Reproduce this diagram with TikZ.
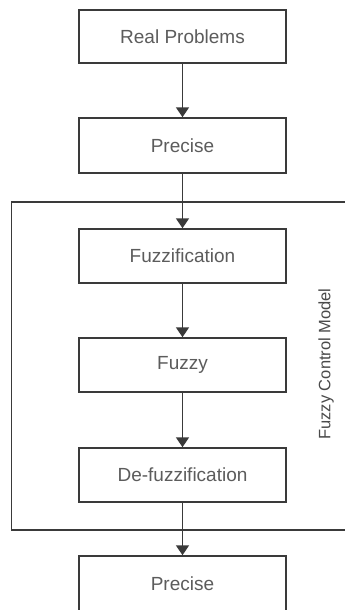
\documentclass[tikz,border=0pt]{standalone}
\usepackage{fontspec}
\setmainfont{Liberation Sans}
\usetikzlibrary{arrows.meta}
\definecolor{linegray}{HTML}{3A3A3A}
\definecolor{textgray}{HTML}{5C5C5C}
\definecolor{labelgray}{HTML}{4A4A4A}
\begin{document}
\begin{tikzpicture}[x=1pt,y=-1pt,
  stepbox/.style={draw=linegray, line width=1.5pt, fill=white,
    minimum width=207pt, minimum height=54pt, inner sep=0pt,
    text=textgray, font=\fontsize{19}{22}\selectfont},
  flow/.style={draw=linegray, line width=1.5pt,
    -{Triangle[width=13pt,length=10pt]}},
  frame/.style={draw=linegray, line width=1.5pt}]
\useasboundingbox (0,0) rectangle (345,610);
\clip (0,0) rectangle (345,610);
\fill[white] (0,0) rectangle (345,610);

% outer frame of the control model (runs off the right edge)
\draw[frame] (11.5,202) rectangle (352,530);

% process steps
\node[stepbox, minimum height=53pt] (real)   at (182.5,36.5) {Real Problems};
\node[stepbox, minimum height=55pt] (prec1)  at (182.5,145.5) {Precise};
\node[stepbox]                      (fuzzif) at (182.5,256) {Fuzzification};
\node[stepbox]                      (fuzzy)  at (182.5,365) {Fuzzy};
\node[stepbox]                      (defuzz) at (182.5,475) {De-fuzzification};
\node[stepbox, minimum height=56pt] (prec2)  at (182.5,584) {Precise};

% vertical caption of the frame
\node[rotate=90, text=labelgray, font=\fontsize{16.5}{18}\selectfont, inner sep=0pt]
  (modellabel) at (326,364) {Fuzzy Control Model};

% connectors
\draw[flow] (real) -- (prec1);
\draw[flow] (prec1) -- (fuzzif);
\draw[flow] (fuzzif) -- (fuzzy);
\draw[flow] (fuzzy) -- (defuzz);
\draw[flow] (defuzz) -- (prec2);
\end{tikzpicture}
\end{document}
